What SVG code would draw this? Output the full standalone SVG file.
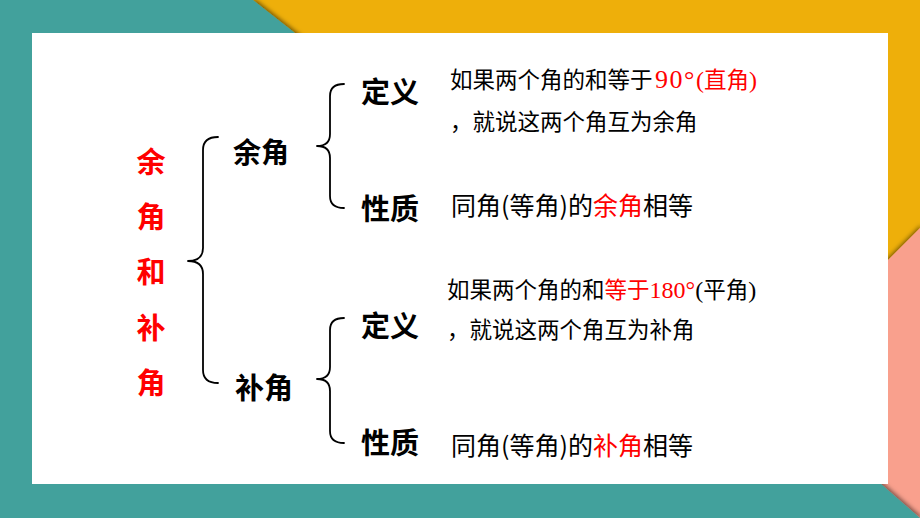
<svg xmlns="http://www.w3.org/2000/svg" width="920" height="518" viewBox="0 0 920 518">
<style>
.h{font-family:"Noto Sans CJK SC","Noto Sans",sans-serif;font-weight:700;font-size:29px;fill:#000}
.r{fill:#FF0000}
.t{font-family:"Noto Sans CJK SC","Noto Sans",sans-serif;font-size:22.5px;fill:#000}
.p{font-family:"Noto Sans CJK SC","Noto Sans",sans-serif;font-size:25px;fill:#000}
.s{font-family:"Liberation Serif","Noto Sans CJK SC",serif}
.brace{fill:none;stroke:#000;stroke-width:1.8;stroke-linecap:round;stroke-linejoin:round}
</style>
<defs>
<filter id="sh" x="-20%" y="-20%" width="140%" height="140%">
<feDropShadow dx="1" dy="-3" stdDeviation="2" flood-color="#000" flood-opacity="0.5"/>
</filter>
<filter id="sh2" x="-20%" y="-20%" width="140%" height="140%">
<feDropShadow dx="3" dy="0" stdDeviation="2" flood-color="#000" flood-opacity="0.5"/>
</filter>
</defs>
<g id="background">
<rect x="0" y="0" width="920" height="518" fill="#EEAF0A"/>
<polygon points="860,288 920,228 920,518 860,518" fill="#F9A08D" filter="url(#sh)"/>
<polygon points="0,0 253,0 309,44 40,44 40,470 865,470 920,518 0,518" fill="#43A19C" filter="url(#sh2)"/>
<rect x="32" y="33" width="856" height="451" fill="#FFFFFF"/>
</g>
<g id="connectors">
<path class="brace" d="M218,137 Q203,137 203,150 L203,248 Q203,261 188,261 Q203,261 203,274 L203,370 Q203,383 218,383"/>
<path class="brace" d="M344,84 Q330,84 330,96 L330,134 Q330,146 317,146 Q330,146 330,158 L330,196 Q330,208 344,208"/>
<path class="brace" d="M344,318 Q330,318 330,330 L330,367 Q330,379 317,379 Q330,379 330,391 L330,431 Q330,443 344,443"/>
</g>
<g id="title">
<text class="h r" x="151" y="173" text-anchor="middle" font-size="28">余</text>
<text class="h r" x="151" y="228" text-anchor="middle" font-size="28">角</text>
<text class="h r" x="151" y="283" text-anchor="middle" font-size="28">和</text>
<text class="h r" x="151" y="339" text-anchor="middle" font-size="28">补</text>
<text class="h r" x="151" y="394" text-anchor="middle" font-size="28">角</text>
</g>
<g id="node-yujiao"><text class="h" x="233" y="163" style="font-size:28px">余角</text></g>
<g id="node-bujiao"><text class="h" x="235" y="399">补角</text></g>
<g id="node-yu-def"><text class="h" x="361" y="103">定义</text></g>
<g id="node-yu-prop"><text class="h" x="361" y="220">性质</text></g>
<g id="node-bu-def"><text class="h" x="361" y="337">定义</text></g>
<g id="node-bu-prop"><text class="h" x="361" y="454">性质</text></g>
<g id="text-yu-def">
<text class="t" x="450" y="88">如果两个角的和等于<tspan class="s r" x="655" font-size="26" letter-spacing="1.5">90°</tspan><tspan class="s r" font-size="24">(</tspan><tspan class="r">直角</tspan><tspan class="s r" font-size="24">)</tspan></text>
<text class="t" x="450" y="130">，就说这两个角互为余角</text>
</g>
<g id="text-yu-prop">
<text class="p" x="451" y="215">同角(等角)的<tspan class="r">余角</tspan>相等</text>
</g>
<g id="text-bu-def">
<text class="t" x="447" y="298">如果两个角的和<tspan class="r">等于</tspan><tspan class="s r" font-size="24">180°</tspan><tspan class="s" font-size="24">(</tspan>平角<tspan class="s" font-size="24">)</tspan></text>
<text class="t" x="447" y="338">，就说这两个角互为补角</text>
</g>
<g id="text-bu-prop">
<text class="p" x="451" y="455">同角(等角)的<tspan class="r">补角</tspan>相等</text>
</g>
</svg>
